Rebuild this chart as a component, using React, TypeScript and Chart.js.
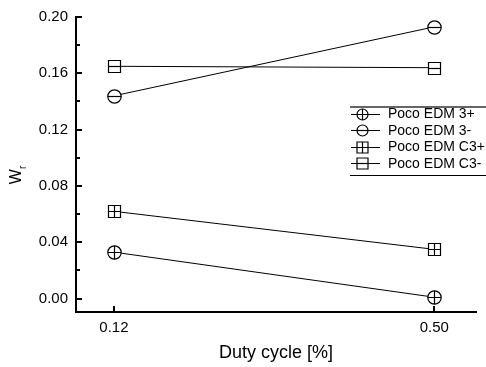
import React, { useEffect, useRef } from 'react';
import { Chart, registerables } from 'chart.js';

Chart.register(...registerables);

const dutyCycle = [0.12, 0.5];
const seriesNames = ['Poco EDM 3+', 'Poco EDM 3-', 'Poco EDM C3+', 'Poco EDM C3-'];
const edm3Plus = [0.033, 0.001];
const edm3Minus = [0.144, 0.193];
const edmC3Plus = [0.062, 0.035];
const edmC3Minus = [0.165, 0.164];
const markerKinds = ['circlePlus', 'circleMinus', 'squarePlus', 'squareMinus'];
const yMajorTicks = [0, 0.04, 0.08, 0.12, 0.16, 0.2];
const yMinorTicks = [0.02, 0.06, 0.1, 0.14, 0.18];
const xTicks = [0.12, 0.5];
const xTitle = 'Duty cycle [%]';
const yTitleMain = 'W';
const yTitleSub = 'r';

const FONT = '"Liberation Sans", Arial, sans-serif';

function drawMarker(ctx: CanvasRenderingContext2D, kind: string, x: number, y: number, r: number) {
  ctx.save();
  ctx.lineWidth = 1.2;
  ctx.strokeStyle = '#000';
  ctx.fillStyle = '#fff';
  ctx.beginPath();
  if (kind.startsWith('circle')) {
    ctx.arc(x, y, r, 0, Math.PI * 2);
  } else {
    ctx.rect(x - r, y - r, 2 * r, 2 * r);
  }
  ctx.fill();
  ctx.stroke();
  ctx.beginPath();
  ctx.moveTo(x - r, y);
  ctx.lineTo(x + r, y);
  if (kind.endsWith('Plus')) {
    ctx.moveTo(x, y - r);
    ctx.lineTo(x, y + r);
  }
  ctx.stroke();
  ctx.restore();
}

const decorPlugin = {
  id: 'decor',
  afterDatasetsDraw(chart: any) {
    const ctx: CanvasRenderingContext2D = chart.ctx;
    chart.data.datasets.forEach((_ds: any, i: number) => {
      const meta = chart.getDatasetMeta(i);
      meta.data.forEach((pt: any) => {
        const kind = markerKinds[i];
        const r = kind.startsWith('circle') ? 6.7 : 6;
        drawMarker(ctx, kind, Math.round(pt.x) + 0.5, Math.round(pt.y) + 0.5, r);
      });
    });
  },
  afterDraw(chart: any) {
    const ctx: CanvasRenderingContext2D = chart.ctx;
    const { left, bottom } = chart.chartArea;
    const xs = chart.scales.x;
    const ys = chart.scales.y;
    ctx.save();
    ctx.strokeStyle = '#000';
    ctx.lineWidth = 2;
    ctx.lineCap = 'butt';
    ctx.beginPath();
    const ax = Math.round(left);
    yMajorTicks.forEach((v) => {
      const py = Math.round(ys.getPixelForValue(v));
      ctx.moveTo(ax, py);
      ctx.lineTo(ax + 6, py);
    });
    yMinorTicks.forEach((v) => {
      const py = Math.round(ys.getPixelForValue(v));
      ctx.moveTo(ax, py);
      ctx.lineTo(ax + 4, py);
    });
    const ay = Math.round(bottom);
    xTicks.forEach((v) => {
      const px = Math.round(xs.getPixelForValue(v));
      ctx.moveTo(px, ay);
      ctx.lineTo(px, ay - 6);
    });
    ctx.stroke();

    // axis titles
    ctx.fillStyle = '#000';
    ctx.font = `18px ${FONT}`;
    ctx.textAlign = 'center';
    ctx.textBaseline = 'middle';
    ctx.fillText(xTitle, (chart.chartArea.left + chart.chartArea.right) / 2, 353);

    ctx.save();
    ctx.translate(21, 175);
    ctx.rotate(-Math.PI / 2);
    ctx.textAlign = 'left';
    ctx.textBaseline = 'alphabetic';
    ctx.font = `16px ${FONT}`;
    const wW = ctx.measureText(yTitleMain).width;
    ctx.font = `10px ${FONT}`;
    const rW = ctx.measureText(yTitleSub).width;
    const start = -(wW + rW) / 2;
    ctx.font = `16px ${FONT}`;
    ctx.fillText(yTitleMain, start, 0);
    ctx.font = `10px ${FONT}`;
    ctx.fillText(yTitleSub, start + wW, 5);
    ctx.restore();

    // legend
    const rows = [113.5, 130, 146.5, 163];
    ctx.strokeStyle = '#666';
    ctx.lineWidth = 2;
    ctx.beginPath();
    ctx.moveTo(350, 107);
    ctx.lineTo(486, 107);
    ctx.stroke();
    ctx.strokeStyle = '#000';
    ctx.lineWidth = 1;
    ctx.beginPath();
    ctx.moveTo(350, 175.5);
    ctx.lineTo(486, 175.5);
    ctx.stroke();
    ctx.font = `14px ${FONT}`;
    ctx.textAlign = 'left';
    ctx.textBaseline = 'middle';
    ctx.fillStyle = '#000';
    chart.data.datasets.forEach((ds: any, i: number) => {
      const y = Math.round(rows[i]) + 0.5;
      ctx.strokeStyle = '#000';
      ctx.lineWidth = 1;
      ctx.beginPath();
      ctx.moveTo(351, y);
      ctx.lineTo(380, y);
      ctx.stroke();
      drawMarker(ctx, markerKinds[i], 362.5, y, 5.5);
      ctx.fillText(ds.label, 388, rows[i] + 1);
    });
    ctx.restore();
  },
};

export default function App() {
  const ref = useRef<HTMLCanvasElement>(null);
  useEffect(() => {
    const series = [edm3Plus, edm3Minus, edmC3Plus, edmC3Minus];
    const chart = new Chart(ref.current!, {
      type: 'line',
      data: {
        datasets: series.map((vals, i) => ({
          label: seriesNames[i],
          data: dutyCycle.map((x, j) => ({ x, y: vals[j] })),
          borderColor: '#000',
          borderWidth: 1,
          pointRadius: 0,
          pointHoverRadius: 0,
          fill: false,
          tension: 0,
        })),
      },
      options: {
        animation: false,
        responsive: false,
        layout: { padding: { top: 16, right: 10, bottom: 0, left: 0 } },
        plugins: { legend: { display: false }, tooltip: { enabled: false } },
        scales: {
          x: {
            type: 'linear',
            min: 0.075,
            max: 0.5495,
            afterBuildTicks: (s: any) => {
              s.ticks = xTicks.map((v) => ({ value: v }));
            },
            afterFit: (s: any) => {
              s.height = 55;
            },
            ticks: {
              callback: (v: any) => Number(v).toFixed(2),
              font: { family: FONT, size: 15 },
              color: '#000',
              padding: 7,
              maxRotation: 0,
              autoSkip: false,
            },
            grid: { display: false, drawTicks: false },
            border: { display: true, color: '#000', width: 2 },
          },
          y: {
            type: 'linear',
            min: -0.0095,
            max: 0.2,
            afterBuildTicks: (s: any) => {
              s.ticks = yMajorTicks.map((v) => ({ value: v }));
            },
            afterFit: (s: any) => {
              s.width = 76;
            },
            ticks: {
              callback: (v: any) => Number(v).toFixed(2),
              font: { family: FONT, size: 15 },
              color: '#000',
              padding: 8,
              autoSkip: false,
            },
            grid: { display: false, drawTicks: false },
            border: { display: true, color: '#000', width: 2 },
          },
        },
      },
      plugins: [decorPlugin],
    });
    return () => chart.destroy();
  }, []);
  return (
    <div style={{ position: 'absolute', left: 0, top: 0, width: 486, height: 367, background: '#fff' }}>
      <canvas ref={ref} width={486} height={367} />
    </div>
  );
}
